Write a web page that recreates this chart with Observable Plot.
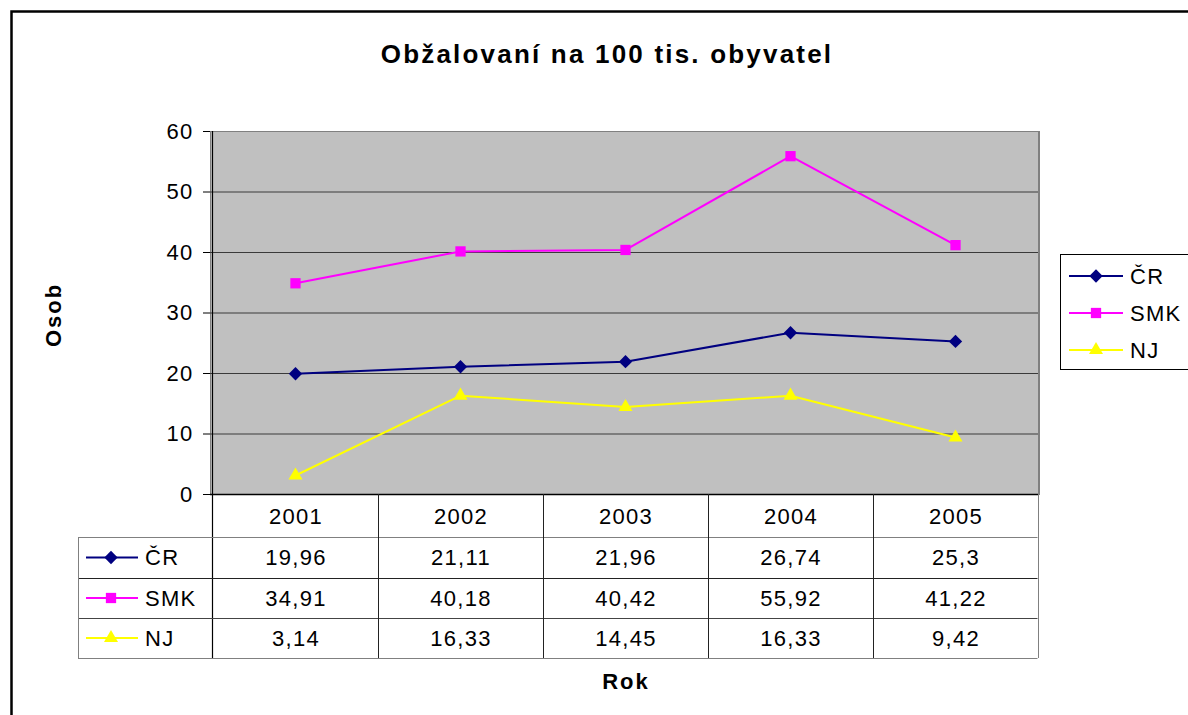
<!DOCTYPE html>
<html><head><meta charset="utf-8">
<script src="https://cdn.jsdelivr.net/npm/d3@7"></script>
<script src="https://cdn.jsdelivr.net/npm/@observablehq/plot@0.6"></script>
<style>
html,body{margin:0;padding:0;background:#fff;overflow:hidden}
svg text{letter-spacing:1.3px}
</style>
</head><body><div id="chart"></div>
<script>
const titleText = "Obžalovaní na 100 tis. obyvatel";
const yLabel = "Osob";
const xLabel = "Rok";
const years = ["2001","2002","2003","2004","2005"];
const seriesNames = ["ČR","SMK","NJ"];
const crValues = [19.96,21.11,21.96,26.74,25.3];
const smkValues = [34.91,40.18,40.42,55.92,41.22];
const njValues = [3.14,16.33,14.45,16.33,9.42];
const yTicks = [0,10,20,30,40,50,60];
const seriesColors = ["#000080","#FF00FF","#FFFF00"];
const seriesSymbols = ["diamond2","square","triangle"];
const seriesR = [6,5.8,5.2];

const allValues = [crValues, smkValues, njValues];
const data = [];
seriesNames.forEach((s,k)=>years.forEach((y,i)=>data.push({series:s, year:y, value:allValues[k][i]})));
const fmt = v => String(v).replace(".", ",");
const FONT = "'Liberation Sans', Arial, sans-serif";
const FS = 22;

const plot = Plot.plot({
  width:1188, height:715,
  marginLeft:210, marginRight:149, marginTop:131, marginBottom:221,
  style:{fontFamily:FONT, fontSize:FS+"px", background:"white", overflow:"visible", color:"#000"},
  x:{type:"point", domain:years, padding:0.5, axis:null},
  y:{domain:[0,60], axis:null},
  color:{domain:seriesNames, range:seriesColors},
  marks:[
    Plot.frame({fill:"#C0C0C0", stroke:"#808080"}),
    Plot.ruleY(yTicks.filter(t=>t>0 && t<60), {stroke:"#3a3a3a", strokeWidth:1}),
    Plot.ruleY([0], {stroke:"#000", strokeWidth:1.5}),
    Plot.axisY(yTicks, {label:null, tickSize:7, tickPadding:10, fontSize:FS, stroke:"#000", fill:"#000"}),
    Plot.line(data, {x:"year", y:"value", z:"series", stroke:"series", strokeWidth:2}),
    ...seriesNames.map((s,k)=>Plot.dot(data.filter(d=>d.series===s), {
      x:"year", y:"value", symbol:seriesSymbols[k], fill:seriesColors[k], stroke:"none", r:seriesR[k]
    }))
  ]
});
document.getElementById("chart").append(plot);

const svg = d3.select(plot);
const xs = plot.scale("x"), ys = plot.scale("y");
const cx = years.map(y=>xs.apply(y));
const step = cx[1]-cx[0];
const left = cx[0]-step/2, right = cx[cx.length-1]+step/2;
const y0 = ys.apply(0), yTop = ys.apply(60);
const rowY = [0,43,84,124,164].map(o=>y0+o);
const labelLeft = 78;

// outer chart border
svg.append("rect").attr("x",11.5).attr("y",11.5).attr("width",1400).attr("height",900)
  .attr("fill","none").attr("stroke","#000").attr("stroke-width",2.5);

// left axis line
svg.append("line").attr("x1",left).attr("x2",left).attr("y1",yTop).attr("y2",rowY[4]).attr("stroke","#000").attr("stroke-width",1.2);

// title and axis titles
svg.append("text").attr("x",607).attr("y",63).attr("text-anchor","middle")
  .attr("font-family",FONT).attr("font-weight","bold").attr("font-size",26).style("letter-spacing","2.2px").text(titleText);
svg.append("text").attr("transform","translate(61,315) rotate(-90)").attr("text-anchor","middle")
  .attr("font-family",FONT).attr("font-weight","bold").attr("font-size",22).style("letter-spacing","2px").text(yLabel);
svg.append("text").attr("x",626).attr("y",689).attr("text-anchor","middle")
  .attr("font-family",FONT).attr("font-weight","bold").attr("font-size",22).style("letter-spacing","2px").text(xLabel);

// data table
const tg = svg.append("g").attr("font-family",FONT).attr("font-size",FS).attr("fill","#000");
const hl = (y,x1,x2,c)=>tg.append("line").attr("x1",x1).attr("x2",x2).attr("y1",y).attr("y2",y).attr("stroke",c);
const vl = (x,y1,y2,c)=>tg.append("line").attr("x1",x).attr("x2",x).attr("y1",y1).attr("y2",y2).attr("stroke",c);
hl(rowY[1]+0.5,labelLeft,right,"#808080");
hl(rowY[2]+0.5,labelLeft,right,"#222");
hl(rowY[3]+0.5,labelLeft,right,"#444");
hl(rowY[4]+0.5,labelLeft,right,"#808080");
vl(labelLeft+0.5,rowY[1],rowY[4],"#808080");
cx.slice(1).forEach(x=>vl(Math.round(x-step/2)+0.5,y0,rowY[4],"#222"));
vl(Math.round(right)+0.5,yTop,rowY[4],"#808080");

years.forEach((y,i)=>tg.append("text").attr("x",cx[i]+1).attr("y",(rowY[0]+rowY[1])/2+1).attr("dy","0.35em").attr("text-anchor","middle").text(y));
const sym = k => d3.symbol().type([d3.symbolDiamond2,d3.symbolSquare,d3.symbolTriangle][k]).size(Math.PI*seriesR[k]*seriesR[k]);
seriesNames.forEach((s,k)=>{
  const cy = (rowY[k+1]+rowY[k+2])/2;
  allValues[k].forEach((v,i)=>tg.append("text").attr("x",cx[i]+1).attr("y",cy).attr("dy","0.35em").attr("text-anchor","middle").text(fmt(v)));
  tg.append("line").attr("x1",86).attr("x2",138).attr("y1",cy).attr("y2",cy).attr("stroke",seriesColors[k]).attr("stroke-width",2);
  tg.append("path").attr("d",sym(k)()).attr("transform",`translate(111,${cy})`).attr("fill",seriesColors[k]);
  tg.append("text").attr("x",145).attr("y",cy).attr("dy","0.35em").attr("text-anchor","start").text(s);
});

// legend
const lg = svg.append("g").attr("font-family",FONT).attr("font-size",FS).attr("fill","#000");
lg.append("rect").attr("x",1060.5).attr("y",254.5).attr("width",200).attr("height",115).attr("fill","#fff").attr("stroke","#000");
seriesNames.forEach((s,k)=>{
  const cy = 276 + k*37;
  lg.append("line").attr("x1",1069).attr("x2",1123).attr("y1",cy).attr("y2",cy).attr("stroke",seriesColors[k]).attr("stroke-width",2);
  lg.append("path").attr("d",sym(k)()).attr("transform",`translate(1096,${cy})`).attr("fill",seriesColors[k]);
  lg.append("text").attr("x",1130).attr("y",cy).attr("dy","0.35em").attr("text-anchor","start").text(s);
});
</script>
</body></html>
